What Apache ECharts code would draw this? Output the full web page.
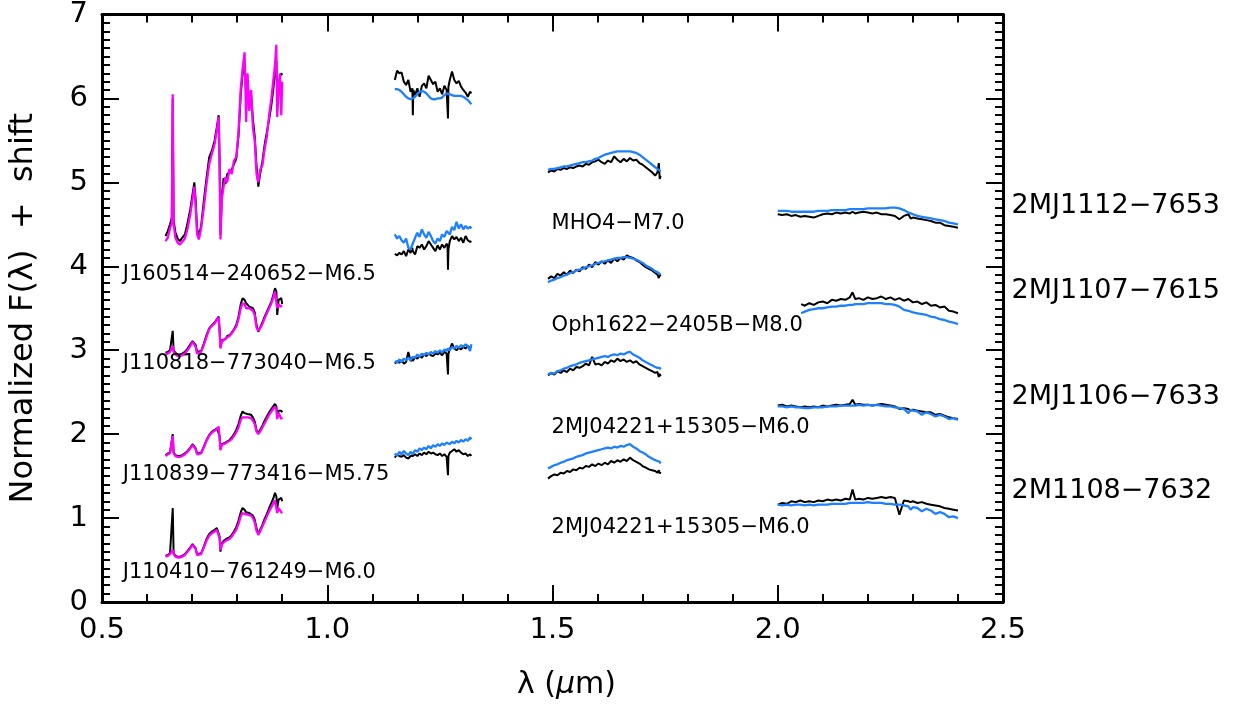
<!DOCTYPE html>
<html><head><meta charset="utf-8">
<script src="https://cdn.jsdelivr.net/npm/echarts@6/dist/echarts.min.js"></script>
<style>html,body{margin:0;padding:0;background:#fff}#c{width:1237px;height:707px}</style>
</head><body><div id="c"></div>
<script>
// ---------- wavelength grids (micron) ----------
const wlOpt = [0.641,0.646,0.651,0.655,0.657,0.659,0.663,0.668,0.673,0.678,0.684,0.690,0.696,0.701,0.705,0.708,0.711,0.715,0.720,0.726,0.732,0.738,0.744,0.750,0.755,0.759,0.761,0.763,0.766,0.770,0.774,0.778,0.783,0.788,0.793,0.798,0.803,0.808,0.812,0.8165,0.820,0.823,0.827,0.831,0.835,0.839,0.843,0.847,0.851,0.856,0.861,0.866,0.871,0.876,0.880,0.884,0.887,0.889,0.892,0.895,0.898,0.900];
const wlJ = [1.150,1.155,1.160,1.165,1.170,1.175,1.180,1.185,1.189,1.190,1.191,1.195,1.200,1.205,1.210,1.215,1.220,1.225,1.230,1.235,1.240,1.245,1.250,1.255,1.260,1.265,1.267,1.268,1.269,1.272,1.277,1.282,1.287,1.292,1.297,1.302,1.307,1.312,1.317,1.320];
const wlH = [1.490,1.497,1.504,1.511,1.518,1.525,1.532,1.539,1.546,1.553,1.560,1.567,1.574,1.581,1.588,1.595,1.602,1.609,1.616,1.623,1.630,1.637,1.644,1.651,1.658,1.665,1.672,1.679,1.686,1.693,1.700,1.707,1.714,1.721,1.728,1.733,1.736,1.738,1.740];
const wlK = [2.000,2.010,2.020,2.030,2.040,2.050,2.060,2.070,2.080,2.090,2.100,2.110,2.120,2.130,2.140,2.150,2.160,2.166,2.172,2.180,2.190,2.200,2.210,2.220,2.230,2.240,2.250,2.260,2.270,2.280,2.290,2.295,2.300,2.310,2.320,2.330,2.340,2.350,2.360,2.370,2.380,2.390,2.400];
const wlK2 = [2.052,2.060,2.070,2.080,2.090,2.100,2.110,2.120,2.130,2.140,2.150,2.160,2.166,2.172,2.180,2.190,2.200,2.210,2.220,2.230,2.240,2.250,2.260,2.270,2.280,2.290,2.300,2.310,2.320,2.330,2.340,2.350,2.360,2.370,2.380,2.390,2.400];

// ---------- optical spectra: observed (black) / model (magenta) ----------
const optA_obs = [4.36,4.42,4.50,4.58,6.00,4.55,4.40,4.33,4.30,4.34,4.38,4.52,4.68,4.86,5.00,4.78,4.45,4.36,4.48,4.78,5.05,5.30,5.38,5.50,5.66,5.80,5.30,4.38,4.85,5.05,4.98,5.10,5.12,5.15,5.22,5.28,5.55,6.05,6.28,6.40,6.10,6.20,5.95,6.05,5.75,5.55,5.20,4.95,5.10,5.25,5.45,5.60,5.75,5.92,6.10,6.30,6.45,6.05,6.15,6.25,6.30,6.28];
const optA_mod = [4.30,4.34,4.45,4.52,6.05,4.50,4.34,4.28,4.26,4.29,4.33,4.45,4.62,4.80,4.95,4.70,4.38,4.32,4.45,4.70,4.98,5.22,5.34,5.46,5.62,5.78,5.20,4.32,4.80,4.95,5.06,5.00,5.16,5.10,5.26,5.30,5.60,6.12,6.35,6.55,5.72,6.30,5.85,6.10,5.65,5.50,5.10,5.00,5.15,5.20,5.40,5.55,5.80,6.00,6.20,6.40,6.64,5.78,6.10,6.30,5.80,6.20];
const optB_obs = [2.97,2.98,3.00,3.01,3.23,3.00,2.97,2.95,2.95,2.96,2.98,3.02,3.07,3.11,3.13,3.06,2.98,2.96,2.99,3.08,3.18,3.26,3.30,3.33,3.37,3.40,3.25,3.04,3.12,3.14,3.13,3.17,3.18,3.21,3.25,3.30,3.40,3.55,3.62,3.60,3.56,3.55,3.52,3.54,3.50,3.45,3.30,3.22,3.27,3.33,3.40,3.46,3.52,3.58,3.65,3.74,3.70,3.42,3.60,3.58,3.62,3.55];
const optB_mod = [2.95,2.96,2.98,2.99,3.05,2.98,2.95,2.93,2.93,2.94,2.96,3.00,3.05,3.10,3.12,3.04,2.96,2.95,2.98,3.06,3.16,3.25,3.29,3.32,3.36,3.39,3.22,3.02,3.10,3.12,3.14,3.15,3.17,3.20,3.24,3.28,3.37,3.50,3.56,3.55,3.50,3.52,3.50,3.51,3.47,3.42,3.27,3.23,3.26,3.31,3.38,3.44,3.50,3.56,3.62,3.70,3.68,3.50,3.55,3.52,3.50,3.53];
const optC_obs = [1.75,1.77,1.78,1.79,2.00,1.78,1.75,1.74,1.74,1.75,1.77,1.80,1.84,1.88,1.89,1.83,1.77,1.75,1.78,1.85,1.93,1.99,2.03,2.05,2.07,2.09,1.98,1.82,1.88,1.90,1.90,1.92,1.93,1.96,2.00,2.05,2.12,2.22,2.27,2.25,2.23,2.24,2.22,2.23,2.20,2.15,2.05,2.01,2.05,2.10,2.16,2.21,2.26,2.30,2.33,2.36,2.33,2.22,2.28,2.27,2.28,2.26];
const optC_mod = [1.74,1.76,1.77,1.78,1.98,1.77,1.74,1.73,1.73,1.74,1.76,1.79,1.83,1.87,1.88,1.82,1.76,1.74,1.77,1.84,1.92,1.98,2.02,2.04,2.06,2.09,1.96,1.81,1.87,1.88,1.89,1.90,1.92,1.94,1.98,2.02,2.08,2.17,2.20,2.20,2.18,2.20,2.18,2.19,2.16,2.12,2.03,2.00,2.03,2.08,2.13,2.18,2.23,2.27,2.30,2.33,2.30,2.18,2.25,2.22,2.18,2.20];
const optD_obs = [0.55,0.56,0.58,0.59,1.12,0.58,0.55,0.54,0.54,0.55,0.57,0.61,0.65,0.69,0.70,0.64,0.57,0.55,0.58,0.66,0.75,0.81,0.84,0.86,0.88,0.90,0.78,0.60,0.70,0.73,0.73,0.76,0.77,0.80,0.84,0.89,0.97,1.07,1.12,1.10,1.07,1.08,1.06,1.07,1.03,0.98,0.88,0.81,0.86,0.92,0.99,1.05,1.12,1.18,1.23,1.30,1.26,1.12,1.22,1.20,1.24,1.20];
const optD_mod = [0.54,0.55,0.57,0.58,0.62,0.57,0.54,0.53,0.53,0.54,0.56,0.60,0.64,0.68,0.69,0.63,0.56,0.54,0.57,0.65,0.73,0.79,0.82,0.84,0.86,0.88,0.76,0.62,0.68,0.71,0.72,0.74,0.75,0.78,0.82,0.86,0.93,1.02,1.06,1.05,1.03,1.04,1.02,1.03,1.00,0.95,0.85,0.80,0.84,0.90,0.96,1.02,1.08,1.13,1.17,1.21,1.22,1.06,1.12,1.10,1.07,1.06];

// ---------- J band: observed (black) / model (blue) ----------
const jA_obs = [6.22,6.33,6.30,6.31,6.20,6.16,6.22,6.08,6.12,5.80,6.10,6.04,6.12,6.02,6.15,6.18,6.12,6.27,6.22,6.17,6.20,6.08,6.12,6.05,6.15,6.10,6.12,5.76,6.14,6.22,6.32,6.22,6.18,6.21,6.14,6.10,6.07,6.02,6.08,6.06];
const jA_mod = [6.11,6.11,6.10,6.08,6.05,6.02,6.00,5.99,5.99,6.00,6.00,6.02,6.05,6.08,6.09,6.08,6.06,6.03,6.00,5.99,5.99,6.00,6.00,6.01,6.04,6.06,6.06,6.06,6.06,6.05,6.04,6.03,6.03,6.03,6.03,6.02,6.00,5.98,5.95,5.93];
const jB_obs = [4.15,4.13,4.16,4.14,4.18,4.12,4.20,4.16,4.22,4.18,4.20,4.14,4.24,4.22,4.26,4.20,4.24,4.30,4.26,4.22,4.18,4.25,4.20,4.26,4.22,4.27,4.24,3.96,4.20,4.30,4.36,4.32,4.35,4.30,4.34,4.28,4.36,4.31,4.29,4.30];
const jB_mod = [4.38,4.33,4.36,4.31,4.28,4.33,4.22,4.20,4.26,4.24,4.28,4.34,4.40,4.35,4.44,4.38,4.34,4.41,4.36,4.30,4.27,4.33,4.30,4.38,4.35,4.42,4.40,4.44,4.43,4.38,4.47,4.43,4.53,4.45,4.50,4.44,4.48,4.45,4.47,4.45];
const jC_obs = [2.84,2.87,2.85,2.88,2.84,2.86,2.98,2.87,2.90,2.87,2.89,2.92,2.90,2.93,2.91,2.95,2.93,2.96,2.94,2.93,2.96,2.95,2.97,2.94,2.98,2.96,2.98,2.71,2.96,3.01,3.08,3.02,3.00,3.03,3.01,3.04,3.02,3.05,3.03,3.04];
const jC_mod = [2.87,2.85,2.89,2.86,2.90,2.88,2.91,2.88,2.92,2.90,2.93,2.91,2.95,2.92,2.96,2.94,2.97,2.95,2.98,2.96,2.99,2.97,3.00,2.97,3.01,2.99,3.02,3.01,3.03,3.00,3.04,3.02,3.05,3.03,3.06,3.04,3.07,3.05,2.99,3.07];
const jD_obs = [1.72,1.76,1.74,1.73,1.75,1.72,1.71,1.74,1.72,1.74,1.73,1.76,1.74,1.77,1.75,1.78,1.76,1.79,1.77,1.78,1.76,1.75,1.77,1.74,1.76,1.73,1.75,1.51,1.74,1.78,1.80,1.82,1.79,1.81,1.78,1.76,1.77,1.74,1.76,1.74];
const jD_mod = [1.77,1.74,1.79,1.76,1.80,1.77,1.75,1.79,1.76,1.78,1.77,1.81,1.79,1.83,1.81,1.84,1.82,1.86,1.83,1.87,1.85,1.88,1.86,1.89,1.87,1.90,1.88,1.89,1.91,1.88,1.91,1.89,1.92,1.90,1.93,1.91,1.94,1.92,1.96,1.94];

// ---------- H band ----------
const hA_obs = [5.12,5.14,5.13,5.16,5.15,5.17,5.16,5.18,5.17,5.19,5.20,5.19,5.22,5.21,5.24,5.25,5.27,5.24,5.22,5.26,5.24,5.31,5.27,5.24,5.28,5.25,5.29,5.26,5.27,5.23,5.21,5.18,5.15,5.12,5.08,5.12,5.23,5.04,5.08];
const hA_mod = [5.15,5.16,5.16,5.17,5.18,5.19,5.19,5.20,5.21,5.22,5.23,5.24,5.24,5.25,5.26,5.28,5.29,5.31,5.33,5.34,5.35,5.36,5.37,5.37,5.37,5.37,5.37,5.36,5.35,5.33,5.30,5.27,5.24,5.21,5.18,5.16,5.15,5.14,5.13];
const hB_obs = [3.85,3.88,3.86,3.91,3.89,3.93,3.90,3.95,3.92,3.96,3.94,3.99,3.97,4.02,3.99,4.05,4.02,4.06,4.03,4.07,4.04,4.09,4.06,4.10,4.08,4.13,4.11,4.10,4.07,4.05,4.02,3.99,3.97,3.95,3.92,3.90,3.86,3.90,3.88];
const hB_mod = [3.81,3.83,3.84,3.86,3.87,3.89,3.90,3.92,3.93,3.95,3.96,3.97,3.99,4.00,4.01,4.03,4.04,4.05,4.06,4.07,4.08,4.09,4.10,4.10,4.11,4.11,4.10,4.09,4.08,4.06,4.04,4.01,3.99,3.97,3.94,3.93,3.92,3.91,3.90];
const hC_obs = [2.70,2.73,2.71,2.75,2.73,2.76,2.74,2.78,2.76,2.80,2.79,2.81,2.84,2.82,2.92,2.83,2.84,2.82,2.86,2.84,2.88,2.86,2.90,2.87,2.89,2.86,2.88,2.85,2.87,2.83,2.81,2.79,2.77,2.75,2.73,2.74,2.68,2.72,2.69];
const hC_mod = [2.71,2.73,2.72,2.75,2.76,2.78,2.79,2.81,2.82,2.83,2.85,2.86,2.87,2.88,2.89,2.90,2.91,2.92,2.93,2.92,2.94,2.95,2.94,2.96,2.95,2.97,2.98,2.95,2.93,2.91,2.88,2.86,2.84,2.82,2.80,2.79,2.78,2.79,2.77];
const hD_obs = [1.47,1.50,1.52,1.51,1.54,1.53,1.56,1.55,1.58,1.57,1.60,1.59,1.62,1.61,1.64,1.62,1.65,1.63,1.66,1.64,1.68,1.66,1.69,1.67,1.70,1.68,1.72,1.69,1.67,1.65,1.62,1.60,1.58,1.57,1.56,1.54,1.57,1.53,1.55];
const hD_mod = [1.59,1.61,1.63,1.64,1.66,1.67,1.69,1.70,1.71,1.73,1.74,1.75,1.77,1.78,1.79,1.80,1.81,1.82,1.83,1.84,1.83,1.85,1.84,1.86,1.85,1.87,1.88,1.85,1.83,1.80,1.78,1.76,1.73,1.71,1.69,1.68,1.66,1.67,1.65];

// ---------- K band ----------
const kA_obs = [4.62,4.61,4.62,4.60,4.61,4.59,4.60,4.59,4.58,4.60,4.62,4.63,4.62,4.64,4.63,4.64,4.63,4.65,4.63,4.64,4.65,4.64,4.63,4.64,4.62,4.62,4.61,4.60,4.56,4.60,4.62,4.57,4.58,4.57,4.56,4.55,4.54,4.52,4.52,4.49,4.48,4.47,4.46];
const kA_mod = [4.66,4.66,4.66,4.65,4.65,4.65,4.65,4.65,4.65,4.66,4.66,4.66,4.67,4.67,4.67,4.67,4.68,4.68,4.68,4.68,4.68,4.69,4.69,4.69,4.69,4.69,4.70,4.70,4.69,4.67,4.64,4.63,4.62,4.60,4.59,4.58,4.57,4.56,4.55,4.54,4.52,4.51,4.50];
const kB_obs = [3.55,3.53,3.56,3.54,3.57,3.58,3.56,3.60,3.59,3.61,3.60,3.63,3.69,3.61,3.62,3.60,3.63,3.61,3.62,3.64,3.61,3.63,3.60,3.62,3.59,3.61,3.57,3.58,3.55,3.57,3.53,3.54,3.51,3.52,3.47,3.46,3.44];
const kB_mod = [3.44,3.46,3.48,3.49,3.50,3.50,3.51,3.52,3.52,3.53,3.53,3.54,3.54,3.55,3.55,3.55,3.56,3.56,3.56,3.56,3.55,3.55,3.54,3.52,3.48,3.47,3.45,3.44,3.43,3.42,3.40,3.39,3.37,3.36,3.34,3.33,3.31];
const kC_obs = [2.34,2.35,2.33,2.34,2.33,2.32,2.33,2.32,2.33,2.32,2.34,2.33,2.34,2.35,2.34,2.35,2.36,2.41,2.35,2.36,2.35,2.35,2.34,2.35,2.36,2.35,2.34,2.33,2.30,2.31,2.30,2.28,2.29,2.28,2.27,2.26,2.26,2.23,2.24,2.22,2.20,2.19,2.18];
const kC_mod = [2.33,2.33,2.32,2.33,2.32,2.32,2.31,2.31,2.32,2.32,2.32,2.33,2.33,2.33,2.34,2.34,2.34,2.34,2.34,2.35,2.34,2.35,2.34,2.35,2.34,2.33,2.33,2.32,2.31,2.30,2.25,2.29,2.28,2.27,2.23,2.26,2.24,2.21,2.23,2.21,2.18,2.19,2.17];
const kD_obs = [1.16,1.18,1.17,1.20,1.19,1.21,1.19,1.20,1.19,1.21,1.20,1.22,1.21,1.22,1.21,1.23,1.22,1.34,1.22,1.23,1.22,1.24,1.23,1.24,1.25,1.24,1.25,1.24,1.04,1.21,1.20,1.19,1.20,1.18,1.19,1.17,1.16,1.15,1.14,1.12,1.11,1.10,1.09];
const kD_mod = [1.16,1.15,1.16,1.15,1.16,1.16,1.15,1.16,1.15,1.16,1.16,1.16,1.17,1.17,1.17,1.17,1.18,1.18,1.18,1.18,1.18,1.19,1.18,1.18,1.18,1.17,1.17,1.16,1.16,1.15,1.14,1.10,1.13,1.12,1.08,1.11,1.09,1.05,1.07,1.05,1.01,1.02,1.00];

// ---------- labels ----------
const innerLabelText = ['J160514\u2212240652\u2212M6.5','J110818\u2212773040\u2212M6.5','J110839\u2212773416\u2212M5.75','J110410\u2212761249\u2212M6.0','MHO4\u2212M7.0','Oph1622\u22122405B\u2212M8.0','2MJ04221+15305\u2212M6.0','2MJ04221+15305\u2212M6.0'];
const innerLabelX = [0.546,0.546,0.546,0.546,1.498,1.498,1.498,1.498];
const innerLabelY = [3.90,2.84,1.52,0.35,4.51,3.29,2.08,0.89];
const sideLabelText = ['2MJ1112\u22127653','2MJ1107\u22127615','2MJ1106\u22127633','2M1108\u22127632'];
const sideLabelX = [2.519,2.519,2.519,2.519];
const sideLabelY = [4.72,3.70,2.44,1.32];

// ---------- build ----------
const BLACK = '#000000', MAG = '#FF00FF', BLUE = '#1E80FF';
const FONT = 'DejaVu Sans';
const spectra = [
  [wlOpt, optA_obs, optA_mod, MAG],[wlOpt, optB_obs, optB_mod, MAG],[wlOpt, optC_obs, optC_mod, MAG],[wlOpt, optD_obs, optD_mod, MAG],
  [wlJ, jA_obs, jA_mod, BLUE],[wlJ, jB_obs, jB_mod, BLUE],[wlJ, jC_obs, jC_mod, BLUE],[wlJ, jD_obs, jD_mod, BLUE],
  [wlH, hA_obs, hA_mod, BLUE],[wlH, hB_obs, hB_mod, BLUE],[wlH, hC_obs, hC_mod, BLUE],[wlH, hD_obs, hD_mod, BLUE],
  [wlK, kA_obs, kA_mod, BLUE],[wlK2, kB_obs, kB_mod, BLUE],[wlK, kC_obs, kC_mod, BLUE],[wlK, kD_obs, kD_mod, BLUE]
];
const pairs = (wl, ys) => wl.map((x, i) => [x, ys[i]]);
const series = [];
spectra.forEach(([wl, obs, mod, col]) => {
  series.push({type:'line', data: pairs(wl, obs), symbol:'none', lineStyle:{color:BLACK, width:2}, z:2, animation:false});
});
spectra.forEach(([wl, obs, mod, col]) => {
  series.push({type:'line', data: pairs(wl, mod), symbol:'none', lineStyle:{color:col, width:2.3}, z:3, animation:false});
});
function labelSeries(texts, xs, ys, size) {
  return {type:'scatter', symbolSize:0, itemStyle:{opacity:0}, clip:false, animation:false, silent:true, z:5,
    data: texts.map((t,i)=>({value:[xs[i], ys[i]], name:t})),
    label:{show:true, position:'right', distance:0, formatter:p=>p.name, color:'#000000', opacity:1,
      textBorderWidth:0, fontFamily:FONT, fontSize:size}};
}
series.push(labelSeries(innerLabelText, innerLabelX, innerLabelY, 21));
series.push(labelSeries(sideLabelText, sideLabelX, sideLabelY, 27));

const axLine = {show:true, onZero:false, lineStyle:{color:'#000', width:3}};
const tick = {show:true, inside:true, length:17, lineStyle:{color:'#000', width:2}};
const xMinor = {show:true, splitNumber:5, length:8, lineStyle:{color:'#000', width:2}};
const yMinor = {show:true, splitNumber:10, length:8, lineStyle:{color:'#000', width:2}};

const chart = echarts.init(document.getElementById('c'), null, {renderer:'canvas'});
chart.setOption({
  backgroundColor:'#fff',
  animation:false,
  grid:{left:98, right:234, top:6, bottom:105, containLabel:false},
  xAxis:[
    {type:'value', min:0.5, max:2.5, interval:0.5, position:'bottom', axisLine:axLine, axisTick:tick, minorTick:xMinor, splitLine:{show:false},
     axisLabel:{margin:14, color:'#000', fontFamily:FONT, fontSize:29, formatter:v=>v.toFixed(1)},
     name:'{a|λ (}{b|μ}{a|m)}', nameLocation:'middle', nameGap:68,
     nameTextStyle:{padding:[0,0,0,28], rich:{a:{fontFamily:FONT, fontSize:30, color:'#000'}, b:{fontFamily:FONT, fontSize:30, fontStyle:'italic', color:'#000'}}}},
    {type:'value', min:0.5, max:2.5, interval:0.5, position:'top', axisLine:axLine, axisTick:tick, minorTick:xMinor, splitLine:{show:false}, axisLabel:{show:false}}
  ],
  yAxis:[
    {type:'value', min:0, max:7, interval:1, position:'left', axisLine:axLine, axisTick:tick, minorTick:yMinor, splitLine:{show:false},
     axisLabel:{margin:14, color:'#000', fontFamily:FONT, fontSize:29},
     name:'Normalized F(λ)  +  shift', nameLocation:'middle', nameGap:62, nameRotate:90,
     nameTextStyle:{fontFamily:FONT, fontSize:32, color:'#000'}},
    {type:'value', min:0, max:7, interval:1, position:'right', axisLine:axLine, axisTick:tick, minorTick:yMinor, splitLine:{show:false}, axisLabel:{show:false}}
  ],
  series: series
});
</script></body></html>
